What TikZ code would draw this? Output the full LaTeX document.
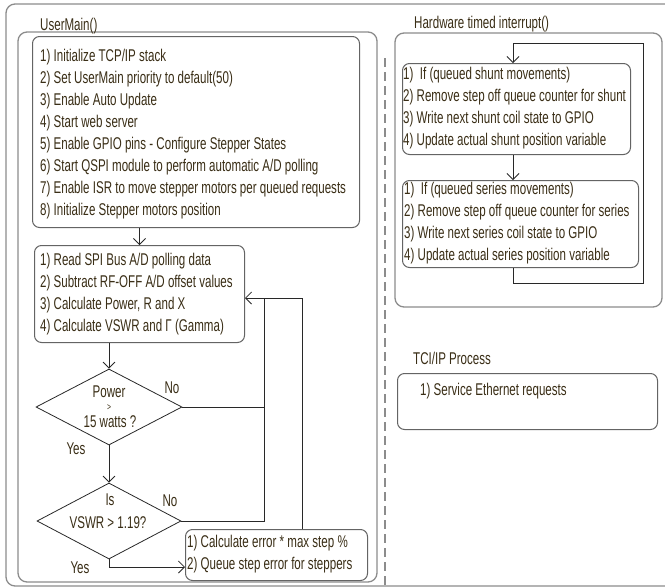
\documentclass[tikz,border=0pt]{standalone}
\usepackage{fontspec}
\setmainfont{Liberation Sans}[FakeStretch=0.68]
\usetikzlibrary{arrows.meta,shapes.geometric}
\definecolor{txt}{RGB}{58,46,22}
\definecolor{frm}{RGB}{100,100,100}
\definecolor{outer}{RGB}{140,140,140}
\definecolor{con}{RGB}{40,40,40}
\newcommand\myfs{\fontsize{17}{22}\selectfont}
\begin{document}
\begin{tikzpicture}[x=1pt,y=-1pt,
  container/.style={draw=outer, line width=1.3pt, rounded corners=9pt},
  procbox/.style={draw=frm, line width=1pt, rounded corners=7pt, inner sep=0pt, anchor=north west},
  lbl/.style={text=txt, font=\myfs, inner sep=0pt, align=left},
  decision/.style={draw=con, line width=0.8pt, diamond, inner sep=0pt},
  conn/.style={draw=con, line width=0.8pt},
  arr/.style={conn, -{Straight Barb[length=6pt,width=12pt]}}
]
\useasboundingbox (0,0) rectangle (665,587);
\clip (0,0) rectangle (665,587);
\fill[white] (0,0) rectangle (665,587);

% outer frames
\draw[container] (6,4) rectangle (690,586);
\draw[container] (18,32) rectangle (377,582);
\draw[container] (395,33) rectangle (662,307);
\draw[draw=outer, line width=1.3pt, dash pattern=on 9pt off 5pt] (385,58) -- (385,590);

% titles
\node[lbl, anchor=base west] (tmain) at (40,30) {UserMain()};
\node[lbl, anchor=base west] (thw) at (414,28) {Hardware timed interrupt()};
\node[lbl, anchor=base west] (ttci) at (413,364) {TCI/IP Process};

% UserMain boxes
\node[procbox, minimum width=327pt, minimum height=191pt] (b1) at (32,36) {};
\node[lbl, anchor=west] (b1t) at ([xshift=8pt,yshift=-2pt]b1.west) {1) Initialize TCP/IP stack\\
2) Set UserMain priority to default(50)\\
3) Enable Auto Update\\
4) Start web server\\
5) Enable GPIO pins - Configure Stepper States\\
6) Start QSPI module to perform automatic A/D polling\\
7) Enable ISR to move stepper motors per queued requests\\
8) Initialize Stepper motors position};

\node[procbox, minimum width=210pt, minimum height=97pt] (b2) at (34,245) {};
\node[lbl, anchor=west] (b2t) at ([xshift=6pt]b2.west) {1) Read SPI Bus A/D polling data\\
2) Subtract RF-OFF A/D offset values\\
3) Calculate Power, R and X\\
4) Calculate VSWR and Γ (Gamma)};

\node[decision, minimum width=146pt, minimum height=76pt] (p) at (109,407) {};
\node[lbl, anchor=base] (pt1) at (109,397) {Power};
\node[lbl, anchor=base, font=\fontsize{10}{10}\selectfont] (pt2) at (109,410) {>};
\node[lbl, anchor=base] (pt3) at (110,427) {15 watts ?};

\node[decision, minimum width=144pt, minimum height=76pt] (v) at (109,521) {};
\node[lbl, anchor=base] (vt1) at (110,505) {Is};
\node[lbl, anchor=base] (vt2) at (108,528) {VSWR > 1.19?};

\node[procbox, minimum width=182pt, minimum height=51pt] (calc) at (185,529) {};
\node[lbl, anchor=west] (calct) at ([xshift=2pt,yshift=1pt]calc.west) {1) Calculate error * max step \%\\
2) Queue step error for steppers};

\node[lbl, anchor=base] (no1) at (172,393) {No};
\node[lbl, anchor=base] (no2) at (170,506) {No};
\node[lbl, anchor=base] (yes1) at (76,454) {Yes};
\node[lbl, anchor=base] (yes2) at (80,573) {Yes};

% UserMain connectors
\draw[arr] (b1.south -| b2.north) -- (b2.north);
\draw[arr] (b2.south -| p.north) -- (p.north);
\draw[arr] (p.south) -- (v.north);
\coordinate (yv) at (109,567);
\draw[arr] (v.south) -- (yv) -- (yv -| calc.west);
\coordinate (ja) at (264,298);
\coordinate (jb) at (302,298);
\draw[conn] (p.east) -- (p.east -| ja);
\draw[conn] (v.east) -- (v.east -| ja) -- (ja);
\draw[arr] (calc.north -| jb) -- (jb) -- (jb -| b2.east);

% Hardware timed interrupt
\node[procbox, minimum width=228pt, minimum height=91pt] (sh) at (402,63) {};
\node[lbl, anchor=west] (sht) at ([xshift=1pt,yshift=1pt]sh.west) {1)~ If (queued shunt movements)\\
2) Remove step off queue counter for shunt\\
3) Write next shunt coil state to GPIO\\
4) Update actual shunt position variable};

\node[procbox, minimum width=236pt, minimum height=87pt] (se) at (402,180) {};
\node[lbl, anchor=west] (set) at ([xshift=2pt,yshift=1pt]se.west) {1)~ If (queued series movements)\\
2) Remove step off queue counter for series\\
3) Write next series coil state to GPIO\\
4) Update actual series position variable};

\coordinate (lx) at (513,0);
\coordinate (l1) at (513,283);
\coordinate (l2) at (643,283);
\coordinate (l3) at (643,43);
\coordinate (l4) at (513,43);
\draw[arr] (sh.south -| lx) -- (se.north -| lx);
\draw[arr] (se.south -| lx) -- (l1) -- (l2) -- (l3) -- (l4) -- (sh.north -| lx);

% TCI/IP
\node[procbox, minimum width=260pt, minimum height=56pt] (tci) at (397,373) {};
\node[lbl, anchor=base west] (tcit) at (420,395) {1) Service Ethernet requests};
\end{tikzpicture}
\end{document}
